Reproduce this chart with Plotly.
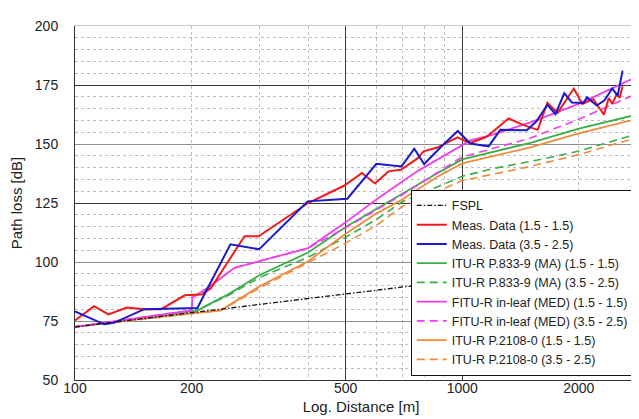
import plotly.graph_objects as go

# ---------------- data ----------------
fspl_d = [100, 200, 500, 1000, 2000, 3000]
fspl_l = [72.5, 78.5, 86.5, 92.5, 98.5, 102.0]

red_d = [100, 112, 122, 136, 151, 167, 192, 212, 224, 274, 298, 400, 495, 551, 595, 645, 694,
         765, 795, 862, 972, 1010, 1048, 1156, 1317, 1440, 1566, 1659, 1763, 1941, 2043, 2181,
         2250, 2322, 2390, 2440, 2503, 2550, 2594]
red_l = [75.2, 81.3, 77.8, 80.7, 80.0, 80.0, 85.9, 86.2, 88.8, 110.9, 110.9, 125.0, 132.3, 137.7,
         133.3, 138.4, 139.1, 143.8, 146.9, 148.5, 152.8, 151.6, 150.4, 153.0, 160.8, 158.0, 156.0,
         167.5, 163.2, 173.5, 167.0, 169.0, 165.9, 162.4, 169.5, 167.0, 171.0, 169.6, 174.5]

blue_d = [100, 119, 126, 151, 207, 252, 299, 399, 505, 600, 697, 752, 797, 890, 974, 1048, 1170,
          1254, 1468, 1555, 1659, 1741, 1834, 1919, 2055, 2100, 2225, 2330, 2440, 2520, 2594]
blue_l = [79.1, 73.6, 74.2, 80.0, 80.5, 107.5, 105.4, 125.7, 126.8, 141.6, 140.5, 148.0, 141.5,
          149.5, 155.5, 150.2, 149.0, 156.0, 155.8, 159.6, 166.6, 162.7, 171.5, 167.6, 167.4,
          169.8, 166.3, 168.5, 173.5, 170.5, 181.1]

g_d = [100, 150, 207, 250, 300, 400, 500, 600, 700, 860, 1000, 1500, 2000, 3000]
g_l = [72.5, 76.0, 79.5, 86.5, 94.5, 104.0, 114.8, 122.5, 129.0, 137.5, 143.5, 150.5, 156.5, 163.5]

gd_d = [100, 207, 250, 300, 400, 500, 600, 700, 1000, 1200, 1600, 2000, 3000]
gd_l = [72.5, 79.5, 86.0, 93.5, 102.0, 110.5, 118.0, 125.5, 136.3, 139.6, 143.5, 147.0, 155.5]

m_d = [100, 200, 201, 220, 258, 300, 400, 500, 600, 765, 1000, 1050, 1200, 1500, 2000, 3000]
m_l = [72.5, 79.5, 85.0, 89.0, 97.5, 100.3, 105.9, 116.8, 126.5, 138.4, 149.5, 151.5, 154.0,
       159.2, 167.0, 180.5]

md_d = [100, 200, 201, 220, 258, 300, 400, 500, 600, 700, 1000, 1500, 2000, 3000]
md_l = [72.5, 79.5, 85.0, 89.0, 97.5, 100.3, 105.9, 114.5, 122.0, 128.5, 144.5, 152.5, 160.5, 173.3]

o_d = [100, 150, 238, 300, 400, 500, 600, 700, 860, 1000, 1500, 2000, 3000]
o_l = [72.5, 76.0, 79.5, 89.7, 100.3, 112.0, 120.5, 126.5, 136.0, 141.8, 148.6, 154.5, 161.7]

od_d = [100, 238, 300, 400, 500, 600, 700, 1000, 1500, 2000, 3000]
od_l = [72.5, 79.5, 89.0, 99.5, 108.0, 115.5, 123.5, 134.5, 140.5, 145.5, 154.0]

x_ticks = [100, 200, 500, 1000, 2000]
x_major_grid = [500, 1000]
x_minor_grid = [200, 300, 400, 600, 700, 800, 900, 2000, 3000]
y_dark_grid = [125, 175]

# ---------------- styling ----------------
RED, BLUE = "#f01a1a", "#1a1acc"
GREEN, MAG, ORANGE = "#3aad48", "#ee3fee", "#ef8a3c"
DASH = "8px,5px"

fig = go.Figure()

def add(d, l, name, color, width, dash=None, rank=0):
    fig.add_trace(go.Scatter(
        x=d, y=l, mode="lines", name=name, legendrank=rank,
        line=dict(color=color, width=width, dash=dash)))

# models first (below), then measurements, then FSPL on top
add(g_d, g_l, "ITU-R P.833-9 (MA) (1.5 - 1.5)", GREEN, 1.8, rank=4)
add(gd_d, gd_l, "ITU-R P.833-9 (MA) (3.5 - 2.5)", GREEN, 1.6, DASH, rank=5)
add(o_d, o_l, "ITU-R P.2108-0 (1.5 - 1.5)", ORANGE, 1.8, rank=8)
add(od_d, od_l, "ITU-R P.2108-0 (3.5 - 2.5)", ORANGE, 1.6, DASH, rank=9)
add(m_d, m_l, "FITU-R in-leaf (MED) (1.5 - 1.5)", MAG, 1.8, rank=6)
add(md_d, md_l, "FITU-R in-leaf (MED) (3.5 - 2.5)", MAG, 1.6, DASH, rank=7)
add(red_d, red_l, "Meas. Data (1.5 - 1.5)", RED, 2.0, rank=2)
add(blue_d, blue_l, "Meas. Data (3.5 - 2.5)", BLUE, 2.0, rank=3)
add(fspl_d, fspl_l, "FSPL", "#111111", 1.3, "5px,2px,1.5px,2px", rank=1)

# empty helper traces so the overlay grid axes exist
fig.add_trace(go.Scatter(x=[], y=[], xaxis="x2", yaxis="y", showlegend=False, hoverinfo="skip"))
fig.add_trace(go.Scatter(x=[], y=[], xaxis="x", yaxis="y2", showlegend=False, hoverinfo="skip"))

FONT = "Arial, Liberation Sans, Helvetica, sans-serif"
xr = [2, 3.4771]

fig.update_layout(
    width=639, height=419, autosize=False,
    margin=dict(l=67, r=0, t=18, b=47, pad=0),
    paper_bgcolor="white", plot_bgcolor="white",
    font=dict(family=FONT, color="#222222"),
    showlegend=True,
    legend=dict(
        x=0.587, xanchor="left", y=0.012, yanchor="bottom",
        bgcolor="white", bordercolor="#111111", borderwidth=1,
        font=dict(size=12.5, family=FONT, color="#222222"),
        itemwidth=30,
    ),
    xaxis=dict(
        type="log", range=xr, tickvals=x_ticks, ticktext=[str(v) for v in x_ticks],
        showgrid=False, zeroline=False, ticks="",
        showline=True, linecolor="#333333", linewidth=1,
        tickfont=dict(size=14, family=FONT, color="#222222"),
        ticklabelstandoff=-5,
        title=dict(text="Log. Distance [m]", font=dict(size=15, family=FONT, color="#222222"),
                   standoff=6),
        minor=dict(tickmode="array", tickvals=x_minor_grid, showgrid=True,
                   gridcolor="#bdbdbd", griddash="dot", gridwidth=1, ticks=""),
    ),
    xaxis2=dict(
        type="log", range=xr, overlaying="x", anchor="y", side="top",
        tickvals=x_major_grid, showticklabels=False, ticks="",
        showgrid=True, gridcolor="#3a3a3a", gridwidth=1,
        showline=True, linecolor="#c8c8c8", linewidth=1, zeroline=False,
    ),
    yaxis=dict(
        range=[50, 200], tick0=50, dtick=25, showgrid=True, gridcolor="#8f8f8f", gridwidth=1,
        zeroline=False, ticks="", showline=True, linecolor="#333333", linewidth=1,
        tickfont=dict(size=14, family=FONT, color="#222222"),
        ticklabelstandoff=13,
        title=dict(text="Path loss [dB]", font=dict(size=15, family=FONT, color="#222222"),
                   standoff=8),
        minor=dict(dtick=5, tick0=50, showgrid=True, gridcolor="#bdbdbd", griddash="dot",
                   gridwidth=1, ticks=""),
    ),
    yaxis2=dict(
        range=[50, 200], overlaying="y", anchor="x", side="right",
        tickvals=y_dark_grid, showticklabels=False, ticks="",
        showgrid=True, gridcolor="#3a3a3a", gridwidth=1, zeroline=False, showline=False,
    ),
)

fig.write_html("out.html")
